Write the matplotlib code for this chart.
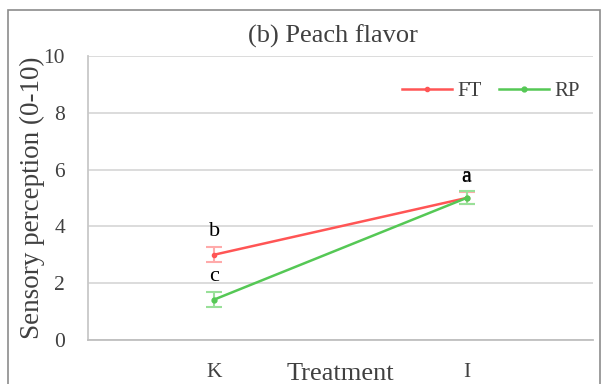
import numpy as np
import matplotlib.pyplot as plt
from matplotlib.patches import Rectangle

plt.rcParams['font.family'] = ['Liberation Serif', 'DejaVu Serif']

# Daten
treatments = ['K', 'I']
ft_mean = np.array([3.0, 5.0])
ft_err = np.array([0.27, 0.2])
rp_mean = np.array([1.42, 5.0])
rp_err = np.array([0.27, 0.23])
ft_letters = ['b', 'a']
rp_letters = ['c', 'a']

fig = plt.figure(figsize=(6.03, 3.84), dpi=100)
ax = fig.add_axes([0.146, 0.115, 0.837, 0.739])

# Rahmen um die ganze Grafik
fig.patches.append(Rectangle((8 / 603, -0.01), 592 / 603, 1 - 10 / 384 + 0.01,
                             transform=fig.transFigure, fill=False,
                             edgecolor='#8c8c8c', linewidth=1.2))

x = np.arange(len(treatments))
ax.errorbar(x, ft_mean, yerr=ft_err, fmt='none', ecolor='#ffaaaa',
            elinewidth=1.5, capsize=6, capthick=1.5, zorder=2)
ax.errorbar(x, rp_mean, yerr=rp_err, fmt='none', ecolor='#99e099',
            elinewidth=1.5, capsize=6, capthick=1.5, zorder=2)
ax.plot(x, ft_mean, color='#ff5555', marker='o', markersize=3, linewidth=1.8,
        label='FT', zorder=3)
ax.plot(x, rp_mean, color='#55c855', marker='o', markersize=3.5, linewidth=1.8,
        label='RP', zorder=3)

for i in range(len(x)):
    ax.text(x[i], ft_mean[i] + ft_err[i] + 0.2, ft_letters[i], ha='center',
            va='bottom', fontsize=16)
    ax.text(x[i], rp_mean[i] + rp_err[i] + 0.2, rp_letters[i], ha='center',
            va='bottom', fontsize=16)

ax.set_xlim(-0.5, 1.5)
ax.set_ylim(0, 10)
ax.set_yticks(np.arange(0, 11, 2))
ax.set_xticks(x)
ax.set_xticklabels(treatments)
ax.tick_params(axis='both', length=0, labelsize=15.5, colors='#404040')
ax.tick_params(axis='y', pad=16.5)
ax.tick_params(axis='x', pad=17)

ax.grid(axis='y', color='#d9d9d9', linewidth=1.3)
ax.set_axisbelow(True)
for s in ['top', 'right']:
    ax.spines[s].set_visible(False)
ax.spines['left'].set_color('#c8c8c8')
ax.spines['bottom'].set_color('#bfbfbf')
ax.spines['left'].set_linewidth(1.3)
ax.spines['bottom'].set_linewidth(1.3)

ax.set_ylabel('Sensory perception (0-10)', fontsize=19.5, color='#404040', labelpad=-1)
ax.set_xlabel('Treatment', fontsize=19, color='#404040', labelpad=-14)
ax.set_title('(b) Peach flavor', fontsize=19, color='#404040', pad=10, x=0.486)

leg = ax.legend(loc='upper right', ncol=2, frameon=False, fontsize=15,
                bbox_to_anchor=(1.012, 0.977), handlelength=2.4, columnspacing=0.85,
                handletextpad=0.25, labelcolor='#404040')

plt.savefig('out.png', dpi=100)
